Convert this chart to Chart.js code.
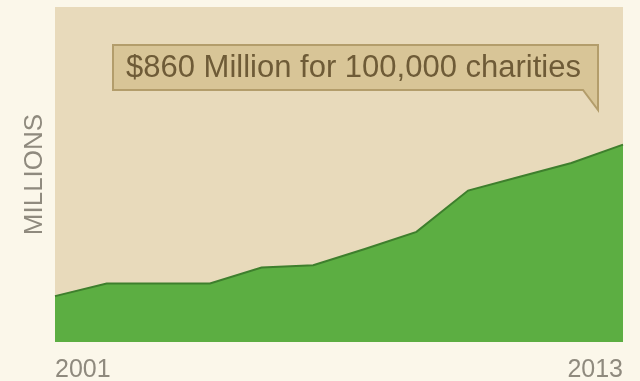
<!DOCTYPE html>
<html>
<head>
<meta charset="utf-8">
<script src="https://cdn.jsdelivr.net/npm/chart.js@4"></script>
<style>
  html, body { margin: 0; padding: 0; background: #fbf7ea; }
  #wrap { width: 640px; height: 381px; position: relative; }
</style>
</head>
<body>
<div id="wrap"><canvas id="chart" width="640" height="381"></canvas></div>
<script>
// donations per year, in millions
const years = ['2001', '', '', '', '', '', '', '', '', '', '', '2013'];
const millions = [200, 255, 255, 255, 325, 335, 405, 480, 660, 720, 780, 860];
const yMax = 1460;
const calloutText = '$860 Million for 100,000 charities';
const axisTitle = 'MILLIONS';

const FONT = "'Liberation Sans', Arial, sans-serif";

// plot background + callout box
const backdrop = {
    id: 'backdrop',
    beforeDraw(chart) {
        const { ctx, chartArea: a } = chart;
        ctx.save();
        ctx.fillStyle = '#e8dabb';
        ctx.fillRect(a.left, a.top, a.right - a.left, a.bottom - a.top);
        ctx.restore();
    },
    afterDraw(chart) {
        const { ctx, chartArea: a } = chart;
        const l = a.left + 58, r = a.right - 25, t = a.top + 38, b = a.top + 83;
        ctx.save();
        ctx.beginPath();
        ctx.moveTo(l, t);
        ctx.lineTo(r, t);
        ctx.lineTo(r, b + 20);
        ctx.lineTo(r - 15, b);
        ctx.lineTo(l, b);
        ctx.closePath();
        ctx.fillStyle = '#d8c597';
        ctx.fill();
        ctx.lineWidth = 2;
        ctx.strokeStyle = '#b39d6b';
        ctx.stroke();
        ctx.fillStyle = '#6e5b37';
        ctx.font = '31px ' + FONT;
        ctx.textBaseline = 'middle';
        ctx.fillText(calloutText, l + 13, (t + b) / 2 + 1);
        ctx.restore();
    }
};

new Chart(document.getElementById('chart'), {
    type: 'line',
    data: {
        labels: years,
        datasets: [{
            data: millions,
            fill: 'origin',
            backgroundColor: '#5cae42',
            borderColor: '#3e7f2d',
            borderWidth: 2,
            pointRadius: 0,
            tension: 0
        }]
    },
    options: {
        responsive: false,
        animation: false,
        events: [],
        layout: { padding: { left: 5, right: 17, top: 7, bottom: 0 } },
        plugins: { legend: { display: false }, tooltip: { enabled: false } },
        scales: {
            x: {
                grid: { display: false, drawTicks: false },
                border: { display: false },
                ticks: {
                    color: '#8f8a7e',
                    font: { family: FONT, size: 25 },
                    align: 'inner',
                    autoSkip: false,
                    maxRotation: 0,
                    padding: 13
                },
                afterFit(scale) { scale.height = 39; }
            },
            y: {
                min: 0,
                max: yMax,
                grid: { display: false, drawTicks: false },
                border: { display: false },
                ticks: { display: false },
                title: {
                    display: true,
                    text: axisTitle,
                    color: '#8f8a7e',
                    font: { family: FONT, size: 26 },
                    padding: { top: 14, bottom: 0 }
                },
                afterFit(scale) { scale.width = 50; }
            }
        }
    },
    plugins: [backdrop]
});
</script>
</body>
</html>
